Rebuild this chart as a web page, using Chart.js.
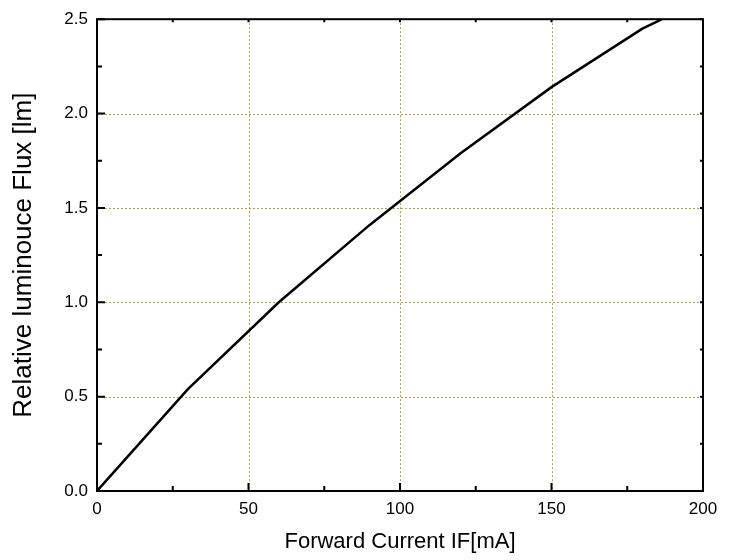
<!DOCTYPE html>
<html>
<head>
<meta charset="utf-8">
<script src="https://cdn.jsdelivr.net/npm/chart.js@4.4.1/dist/chart.umd.min.js"></script>
<style>
  html, body { margin: 0; padding: 0; background: #ffffff; }
  #wrap { width: 736px; height: 560px; position: relative; }
</style>
</head>
<body>
<div id="wrap"><canvas id="c" width="736" height="560"></canvas></div>
<script>
// Data
const currentMA = [0, 30, 60, 90, 120, 150, 180, 186.5];
const fluxLm = [0, 0.54, 1.0, 1.41, 1.79, 2.14, 2.45, 2.5];
const xTicks = [0, 50, 100, 150, 200];
const yTicks = [0.0, 0.5, 1.0, 1.5, 2.0, 2.5];
const xMinorTicks = [25, 75, 125, 175];
const yMinorTicks = [0.25, 0.75, 1.25, 1.75, 2.25];
const xGridValues = [50, 100, 150];
const yGridValues = [0.5, 1.0, 1.5, 2.0];
const xTitle = 'Forward Current IF[mA]';
const yTitle = 'Relative luminouce Flux [lm]';

const points = currentMA.map((x, i) => ({ x: x, y: fluxLm[i] }));

const gridPlugin = {
  id: 'dottedGrid',
  beforeDatasetsDraw(chart) {
    const { ctx, chartArea: a, scales } = chart;
    ctx.save();
    ctx.strokeStyle = '#a9a93a';
    ctx.lineWidth = 1;
    ctx.setLineDash([2, 2]);
    ctx.beginPath();
    xGridValues.forEach(v => {
      const px = Math.round(scales.x.getPixelForValue(v)) + 0.5;
      ctx.moveTo(px, a.top); ctx.lineTo(px, a.bottom);
    });
    yGridValues.forEach(v => {
      const py = Math.round(scales.y.getPixelForValue(v)) + 0.5;
      ctx.moveTo(a.left, py); ctx.lineTo(a.right, py);
    });
    ctx.stroke();
    ctx.restore();
  }
};

const framePlugin = {
  id: 'frameTicks',
  afterDatasetsDraw(chart) {
    const { ctx, chartArea: a, scales } = chart;
    const xs = scales.x, ys = scales.y;
    ctx.save();
    ctx.strokeStyle = '#000';
    ctx.lineWidth = 2;
    ctx.beginPath();
    xTicks.forEach(v => {
      const px = xs.getPixelForValue(v);
      ctx.moveTo(px, a.bottom); ctx.lineTo(px, a.bottom - 8);
      ctx.moveTo(px, a.top); ctx.lineTo(px, a.top + 3);
    });
    yTicks.forEach(v => {
      const py = ys.getPixelForValue(v);
      ctx.moveTo(a.left, py); ctx.lineTo(a.left + 8, py);
      ctx.moveTo(a.right, py); ctx.lineTo(a.right - 3, py);
    });
    xMinorTicks.forEach(v => {
      const px = xs.getPixelForValue(v);
      ctx.moveTo(px, a.bottom); ctx.lineTo(px, a.bottom - 5);
      ctx.moveTo(px, a.top); ctx.lineTo(px, a.top + 3);
    });
    yMinorTicks.forEach(v => {
      const py = ys.getPixelForValue(v);
      ctx.moveTo(a.left, py); ctx.lineTo(a.left + 5, py);
      ctx.moveTo(a.right, py); ctx.lineTo(a.right - 3, py);
    });
    ctx.stroke();
    ctx.strokeRect(a.left, a.top, a.right - a.left, a.bottom - a.top);
    ctx.restore();
  }
};

new Chart(document.getElementById('c'), {
  type: 'scatter',
  data: {
    datasets: [{
      data: points,
      showLine: true,
      borderColor: '#000000',
      borderWidth: 2.5,
      pointRadius: 0,
      tension: 0,
      fill: false
    }]
  },
  options: {
    responsive: false,
    animation: false,
    devicePixelRatio: 1,
    layout: { padding: { left: 0, top: 16, right: 33, bottom: 0 } },
    plugins: { legend: { display: false }, tooltip: { enabled: false } },
    scales: {
      x: {
        type: 'linear', min: 0, max: 200,
        afterFit(scale) { scale.height = 69; },
        afterBuildTicks(scale) { scale.ticks = xTicks.map(v => ({ value: v })); },
        border: { display: false },
        grid: { display: false, drawTicks: false },
        ticks: {
          color: '#000', padding: 8,
          font: { family: 'Liberation Sans, Arial, sans-serif', size: 17 },
          callback: v => String(v)
        },
        title: {
          display: true, text: xTitle, color: '#000',
          font: { family: 'Liberation Sans, Arial, sans-serif', size: 22 },
          padding: { top: 0, bottom: 5 }
        }
      },
      y: {
        type: 'linear', min: 0, max: 2.5,
        afterFit(scale) { scale.width = 97; },
        afterBuildTicks(scale) { scale.ticks = yTicks.map(v => ({ value: v })); },
        border: { display: false },
        grid: { display: false, drawTicks: false },
        ticks: {
          color: '#000', padding: 9,
          font: { family: 'Liberation Sans, Arial, sans-serif', size: 17 },
          callback: v => Number(v).toFixed(1)
        },
        title: {
          display: true, text: yTitle, color: '#000',
          font: { family: 'Liberation Sans, Arial, sans-serif', size: 26 },
          padding: { top: 8, bottom: 0 }
        }
      }
    }
  },
  plugins: [gridPlugin, framePlugin]
});
</script>
</body>
</html>
